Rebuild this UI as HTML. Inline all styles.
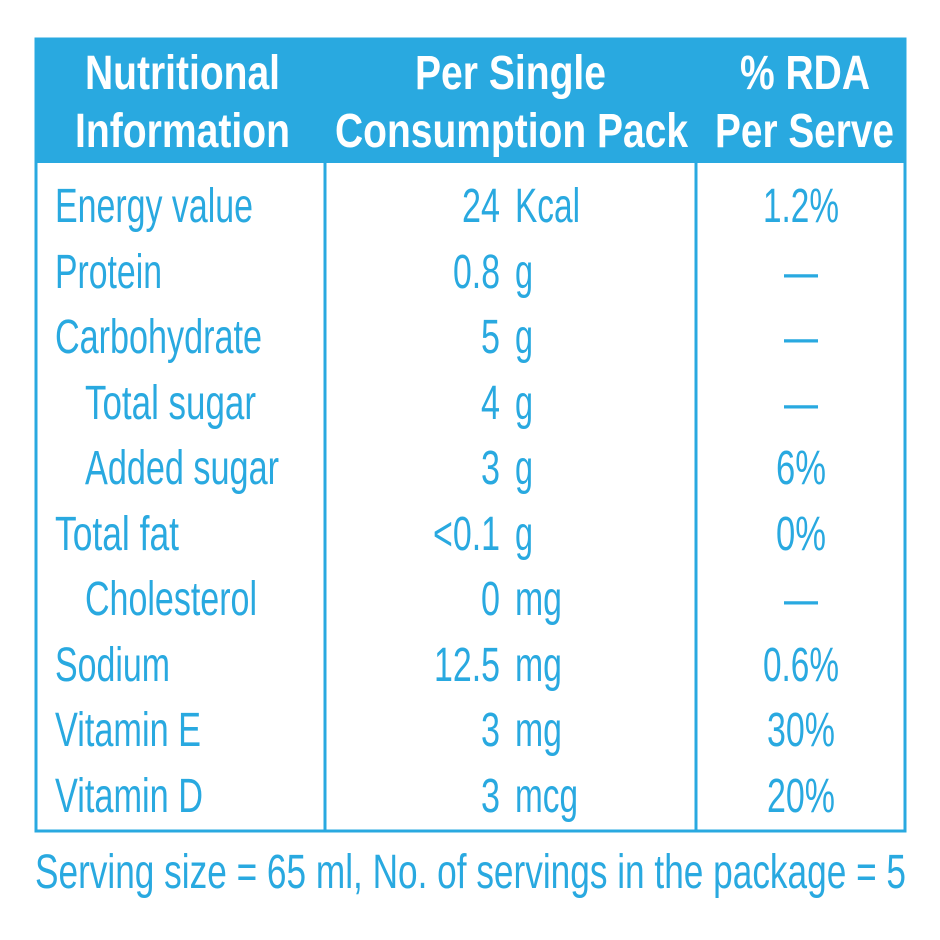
<!DOCTYPE html>
<html><head><meta charset="utf-8"><style>
html,body{margin:0;padding:0;background:#fff;}
svg{display:block;}
text{font-family:"Liberation Sans",sans-serif;}
</style></head><body>
<svg width="940" height="940" viewBox="0 0 940 940">
<rect x="0" y="0" width="940" height="940" fill="#fff"/>
<rect x="35" y="38" width="871" height="125" fill="#29a9e0"/>
<rect x="36" y="39" width="869" height="792" fill="none" stroke="#29a9e0" stroke-width="3"/>
<line x1="325" y1="38" x2="325" y2="832" stroke="#29a9e0" stroke-width="3"/>
<line x1="696" y1="38" x2="696" y2="832" stroke="#29a9e0" stroke-width="3"/>
<g fill="#fff" font-weight="bold" font-size="48">
<text x="85" y="89" textLength="195" lengthAdjust="spacingAndGlyphs">Nutritional</text>
<text x="75" y="147" textLength="215" lengthAdjust="spacingAndGlyphs">Information</text>
<text x="415" y="89" textLength="191" lengthAdjust="spacingAndGlyphs">Per Single</text>
<text x="335" y="147" textLength="353" lengthAdjust="spacingAndGlyphs">Consumption Pack</text>
<text x="740" y="89" textLength="130" lengthAdjust="spacingAndGlyphs">% RDA</text>
<text x="715" y="147" textLength="179" lengthAdjust="spacingAndGlyphs">Per Serve</text>
</g>
<g fill="#29a9e0" font-size="48">
<text x="55" y="222" textLength="198" lengthAdjust="spacingAndGlyphs">Energy value</text>
<text x="55" y="288" textLength="107" lengthAdjust="spacingAndGlyphs">Protein</text>
<text x="55" y="353" textLength="207" lengthAdjust="spacingAndGlyphs">Carbohydrate</text>
<text x="85" y="419" textLength="171" lengthAdjust="spacingAndGlyphs">Total sugar</text>
<text x="85" y="484" textLength="194" lengthAdjust="spacingAndGlyphs">Added sugar</text>
<text x="55" y="550" textLength="124" lengthAdjust="spacingAndGlyphs">Total fat</text>
<text x="85" y="615" textLength="172" lengthAdjust="spacingAndGlyphs">Cholesterol</text>
<text x="55" y="681" textLength="115" lengthAdjust="spacingAndGlyphs">Sodium</text>
<text x="55" y="746" textLength="146" lengthAdjust="spacingAndGlyphs">Vitamin E</text>
<text x="55" y="812" textLength="148" lengthAdjust="spacingAndGlyphs">Vitamin D</text>

<text x="500" y="222" text-anchor="end" textLength="38" lengthAdjust="spacingAndGlyphs">24</text>
<text x="500" y="288" text-anchor="end" textLength="47" lengthAdjust="spacingAndGlyphs">0.8</text>
<text x="500" y="353" text-anchor="end" textLength="19" lengthAdjust="spacingAndGlyphs">5</text>
<text x="500" y="419" text-anchor="end" textLength="19" lengthAdjust="spacingAndGlyphs">4</text>
<text x="500" y="484" text-anchor="end" textLength="19" lengthAdjust="spacingAndGlyphs">3</text>
<text x="500" y="550" text-anchor="end" textLength="67" lengthAdjust="spacingAndGlyphs">&lt;0.1</text>
<text x="500" y="615" text-anchor="end" textLength="19" lengthAdjust="spacingAndGlyphs">0</text>
<text x="500" y="681" text-anchor="end" textLength="66" lengthAdjust="spacingAndGlyphs">12.5</text>
<text x="500" y="746" text-anchor="end" textLength="19" lengthAdjust="spacingAndGlyphs">3</text>
<text x="500" y="812" text-anchor="end" textLength="19" lengthAdjust="spacingAndGlyphs">3</text>

<text x="515" y="222" textLength="65" lengthAdjust="spacingAndGlyphs">Kcal</text>
<text x="515" y="288" textLength="18" lengthAdjust="spacingAndGlyphs">g</text>
<text x="515" y="353" textLength="18" lengthAdjust="spacingAndGlyphs">g</text>
<text x="515" y="419" textLength="18" lengthAdjust="spacingAndGlyphs">g</text>
<text x="515" y="484" textLength="18" lengthAdjust="spacingAndGlyphs">g</text>
<text x="515" y="550" textLength="18" lengthAdjust="spacingAndGlyphs">g</text>
<text x="515" y="615" textLength="47" lengthAdjust="spacingAndGlyphs">mg</text>
<text x="515" y="681" textLength="47" lengthAdjust="spacingAndGlyphs">mg</text>
<text x="515" y="746" textLength="47" lengthAdjust="spacingAndGlyphs">mg</text>
<text x="515" y="812" textLength="63" lengthAdjust="spacingAndGlyphs">mcg</text>

<g text-anchor="middle">
<text x="801" y="222" textLength="76" lengthAdjust="spacingAndGlyphs">1.2%</text>
<text x="801" y="288" textLength="34" lengthAdjust="spacingAndGlyphs">—</text>
<text x="801" y="353" textLength="34" lengthAdjust="spacingAndGlyphs">—</text>
<text x="801" y="419" textLength="34" lengthAdjust="spacingAndGlyphs">—</text>
<text x="801" y="484" textLength="50" lengthAdjust="spacingAndGlyphs">6%</text>
<text x="801" y="550" textLength="50" lengthAdjust="spacingAndGlyphs">0%</text>
<text x="801" y="615" textLength="34" lengthAdjust="spacingAndGlyphs">—</text>
<text x="801" y="681" textLength="76" lengthAdjust="spacingAndGlyphs">0.6%</text>
<text x="801" y="746" textLength="68" lengthAdjust="spacingAndGlyphs">30%</text>
<text x="801" y="812" textLength="68" lengthAdjust="spacingAndGlyphs">20%</text>
</g>
</g>
<text x="35" y="888" fill="#29a9e0" font-size="48" textLength="871" lengthAdjust="spacingAndGlyphs">Serving size = 65 ml, No. of servings in the package = 5</text>
</svg>
</body></html>
